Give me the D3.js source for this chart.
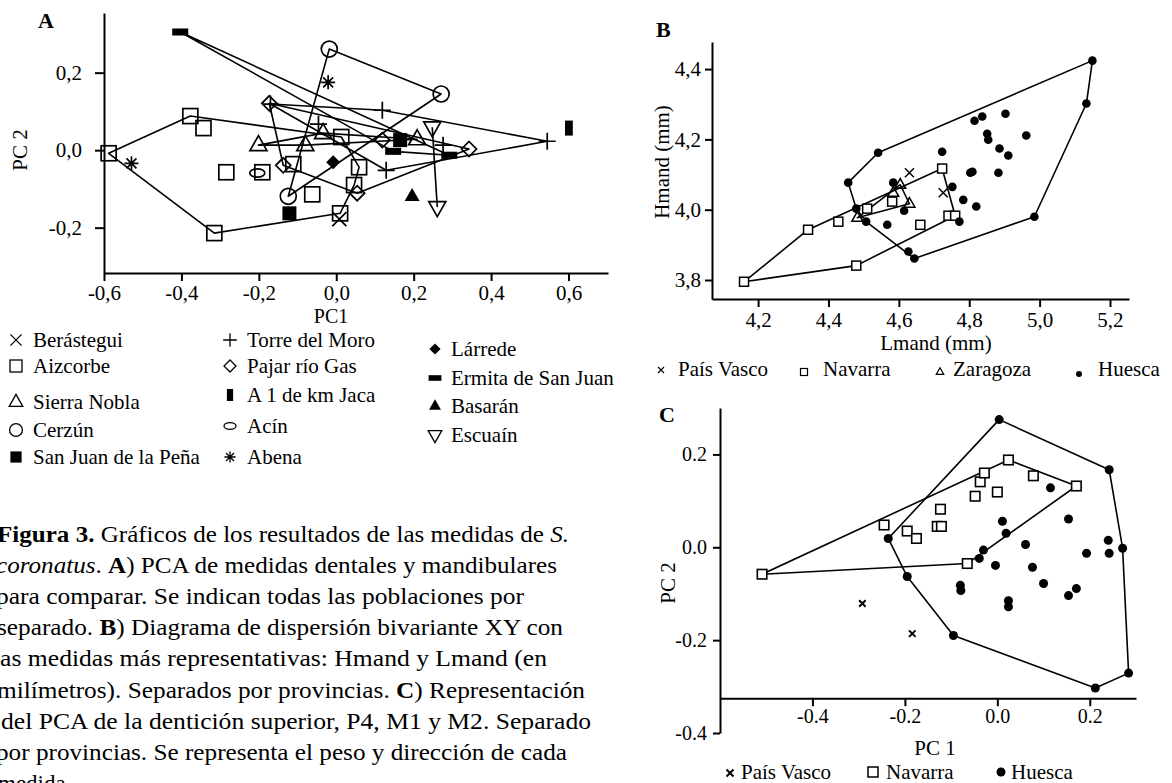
<!DOCTYPE html>
<html><head><meta charset="utf-8">
<script src="https://cdn.jsdelivr.net/npm/d3@7"></script>
<style>
body{margin:0;background:#fff;}
svg text{font-family:"Liberation Serif","Times New Roman",serif;fill:#000;}
</style></head><body>
<svg id="fig" width="1172" height="783"></svg>
<script>
// ---------------- DATA: panel A (PC1, PC2) ----------------
const aBerastegui = [[0.008,-0.178]];
const aAizcorbe = [[-0.588,-0.008],[-0.377,0.088],[-0.343,0.057],[-0.315,-0.214],[-0.284,-0.057],[-0.191,-0.057],[-0.111,-0.036],[-0.062,-0.114],[0.013,0.034],[0.059,-0.044],[0.046,-0.090],[0.010,-0.163]];
const aSierraNobla = [[-0.201,0.013],[-0.080,0.013],[-0.034,0.044],[0.209,0.028]];
const aCerzun = [[-0.018,0.261],[0.271,0.145],[-0.124,-0.119]];
const aSanJuanPena = [[-0.121,-0.163],[0.165,0.026]];
const aTorreMoro = [[-0.170,0.119],[-0.046,0.067],[0.119,0.103],[0.545,0.023],[0.276,0.013],[0.129,-0.052]];
const aPajar = [[-0.173,0.121],[-0.137,-0.039],[0.054,-0.111],[0.343,0.003],[0.119,0.026]];
const aJaca = [[0.601,0.057]];
const aAcin = [[-0.204,-0.059]];
const aAbena = [[-0.529,-0.034],[-0.021,0.175]];
const aLarrede = [[-0.008,-0.031]];
const aErmita = [[-0.403,0.305],[0.147,-0.003],[0.292,-0.013]];
const aBasaran = [[0.196,-0.119]];
const aEscuain = [[0.248,0.059],[0.261,-0.147]];
const aTicksX = [-0.6,-0.4,-0.2,0,0.2,0.4,0.6];
const aTicksY = [-0.2,0,0.2];

// ---------------- DATA: panel B (Lmand, Hmand) ----------------
const bPaisVasco = [[4.630,4.105],[4.726,4.048]];
const bNavarra = [[4.160,3.795],[4.342,3.943],[4.428,3.966],[4.479,3.841],[4.510,4.003],[4.581,4.023],[4.661,3.957],[4.723,4.117],[4.741,3.983],[4.760,3.983]];
const bZaragoza = [[4.482,3.977],[4.584,4.048],[4.604,4.071],[4.630,4.017]];
const bHuesca = [[4.456,4.077],[4.541,4.162],[4.479,4.003],[4.507,3.966],[4.567,3.957],[4.584,4.077],[4.615,3.997],[4.627,3.881],[4.644,3.861],[4.723,4.165],[4.752,4.065],[4.772,3.966],[4.783,4.028],[4.803,4.105],[4.809,4.108],[4.820,4.009],[4.815,4.253],[4.837,4.265],[4.851,4.216],[4.854,4.199],[4.886,4.174],[4.911,4.154],[4.883,4.105],[4.903,4.273],[4.962,4.211],[4.985,3.980],[5.133,4.302],[5.150,4.424]];
const bTicksX = [4.2,4.4,4.6,4.8,5.0,5.2];
const bTicksY = [3.8,4.0,4.2,4.4];

// ---------------- DATA: panel C (PC 1, PC 2) ----------------
const cPaisVasco = [[-0.292,-0.121],[-0.184,-0.186]];
const cNavarra = [[-0.509,-0.058],[-0.245,0.048],[-0.195,0.035],[-0.175,0.019],[-0.123,0.082],[-0.130,0.045],[-0.121,0.045],[-0.048,0.110],[-0.037,0.141],[-0.028,0.160],[0.000,0.119],[0.024,0.188],[0.078,0.154],[0.171,0.132],[-0.065,-0.035]];
const cHuesca = [[-0.236,0.019],[-0.195,-0.063],[0.004,0.275],[0.242,0.167],[0.271,-0.002],[0.115,0.128],[0.011,0.056],[0.019,0.030],[-0.030,-0.006],[-0.039,-0.024],[-0.004,-0.039],[0.061,0.006],[0.076,-0.043],[0.100,-0.078],[0.154,0.061],[0.193,-0.013],[0.240,0.015],[0.242,-0.013],[-0.080,-0.082],[-0.079,-0.093],[0.154,-0.104],[0.171,-0.089],[0.024,-0.115],[0.024,-0.128],[-0.095,-0.190],[0.212,-0.303],[0.284,-0.271]];
const cTicksX = [-0.4,-0.2,0,0.2];
const cTicksY = [-0.4,-0.2,0,0.2];

// ---------------- caption ----------------
const captionLines = [
  [["Figura 3.","b"],[" Gráficos de los resultados de las medidas de ",""],["S.","i"]],
  [["coronatus","i"],[". ",""],["A","b"],[") PCA de medidas dentales y mandibulares",""]],
  [["para comparar. Se indican todas las poblaciones por",""]],
  [["separado. ",""],["B","b"],[") Diagrama de dispersión bivariante XY con",""]],
  [["las medidas más representativas: Hmand y Lmand (en",""]],
  [["milímetros). Separados por provincias. ",""],["C","b"],[") Representación",""]],
  [["del PCA de la dentición superior, P4, M1 y M2. Separado",""]],
  [["por provincias. Se representa el peso y dirección de cada",""]],
  [["medida.",""]]
];

// ---------------- drawing ----------------
const svg = d3.select("#fig");
const FONT = '"Liberation Serif","Times New Roman",serif';

function drawSym(g, type, x, y, s, sw, fillOpen){
  const h = s/2;
  const t = g.append("g").attr("transform", `translate(${x},${y})`);
  const stroke = p => p.attr("fill", fillOpen || "none").attr("stroke","#000").attr("stroke-width", sw);
  const solid = p => p.attr("fill","#000").attr("stroke","none");
  switch(type){
    case "x": stroke(t.append("path").attr("d",`M${-h},${-h}L${h},${h}M${-h},${h}L${h},${-h}`)).attr("fill","none"); break;
    case "plus": stroke(t.append("path").attr("d",`M${-h},0H${h}M0,${-h}V${h}`)).attr("fill","none"); break;
    case "square": stroke(t.append("rect").attr("x",-h).attr("y",-h).attr("width",s).attr("height",s)); break;
    case "fsquare": solid(t.append("rect").attr("x",-h).attr("y",-h).attr("width",s).attr("height",s)); break;
    case "circle": stroke(t.append("circle").attr("r",h)); break;
    case "dot": solid(t.append("circle").attr("r",h)); break;
    case "triangle": stroke(t.append("path").attr("d",`M0,${-0.56*s}L${h},${0.32*s}L${-h},${0.32*s}Z`)); break;
    case "ftriangle": solid(t.append("path").attr("d",`M0,${-0.56*s}L${h},${0.32*s}L${-h},${0.32*s}Z`)); break;
    case "itriangle": stroke(t.append("path").attr("d",`M0,${0.56*s}L${h},${-0.32*s}L${-h},${-0.32*s}Z`)); break;
    case "diamond": stroke(t.append("path").attr("d",`M0,${-h}L${h},0L0,${h}L${-h},0Z`)); break;
    case "fdiamond": solid(t.append("path").attr("d",`M0,${-h}L${h},0L0,${h}L${-h},0Z`)); break;
    case "vrect": solid(t.append("rect").attr("x",-s*0.26).attr("y",-h).attr("width",s*0.52).attr("height",s)); break;
    case "hrect": solid(t.append("rect").attr("x",-h).attr("y",-s*0.22).attr("width",s).attr("height",s*0.44)); break;
    case "ellipse": stroke(t.append("ellipse").attr("rx",h).attr("ry",h*0.55)); break;
    case "asterisk": {
      let d = "";
      [0,45,90,135].forEach(a => { const r = a*Math.PI/180; d += `M${-h*Math.cos(r)},${-h*Math.sin(r)}L${h*Math.cos(r)},${h*Math.sin(r)}`; });
      stroke(t.append("path").attr("d", d)).attr("fill","none"); break;
    }
  }
}

function styleAxis(g, fs){
  g.attr("font-family", FONT).attr("font-size", fs);
  g.selectAll("text").style("font-family", FONT).attr("font-size", fs).attr("fill","#000");
  g.select(".domain").attr("stroke","#000").attr("stroke-width",2);
  g.selectAll(".tick line").attr("stroke","#000").attr("stroke-width",2);
}

function drawHulls(g, pops, sx, sy, sw){
  pops.filter(p => p.hull).forEach(p => {
    const pts = p.data.map(d => [sx(d[0]), sy(d[1])]);
    const poly = pts.length >= 3 ? d3.polygonHull(pts) : pts;
    const line = d3.line();
    g.append("path").attr("d", pts.length >= 3 ? line(poly) + "Z" : line(poly))
      .attr("fill","none").attr("stroke","#000").attr("stroke-width", sw).attr("stroke-linejoin","round");
  });
}

const fmtComma = d => d3.format(".1f")(d).replace("−","-").replace(".",",");
const fmtDot = d => d3.format(".1f")(d).replace("−","-");

// ===== Panel A =====
const ax = d3.scaleLinear().domain([-0.6, 0.702]).range([104, 608]);
const ay = d3.scaleLinear().domain([-0.317, 0.354]).range([273, 13]);
const gA = svg.append("g");
styleAxis(gA.append("g").attr("transform","translate(0,273)")
  .call(d3.axisBottom(ax).tickValues(aTicksX).tickFormat(fmtComma).tickSize(8).tickSizeOuter(0).tickPadding(4)), 21);
styleAxis(gA.append("g").attr("transform","translate(104,0)")
  .call(d3.axisLeft(ay).tickValues(aTicksY).tickFormat(fmtComma).tickSize(9).tickSizeOuter(0).tickPadding(13)), 21);

const popsA = [
  {name:"Berástegui", sym:"x", data:aBerastegui, hull:false, s:14},
  {name:"Aizcorbe", sym:"square", data:aAizcorbe, hull:true, s:15},
  {name:"Sierra Nobla", sym:"triangle", data:aSierraNobla, hull:true, s:17},
  {name:"Cerzún", sym:"circle", data:aCerzun, hull:true, s:16},
  {name:"San Juan de la Peña", sym:"fsquare", data:aSanJuanPena, hull:false, s:14},
  {name:"Torre del Moro", sym:"plus", data:aTorreMoro, hull:true, s:17},
  {name:"Pajar río Gas", sym:"diamond", data:aPajar, hull:true, s:15},
  {name:"A 1 de km Jaca", sym:"vrect", data:aJaca, hull:false, s:15},
  {name:"Acín", sym:"ellipse", data:aAcin, hull:false, s:15},
  {name:"Abena", sym:"asterisk", data:aAbena, hull:false, s:14},
  {name:"Lárrede", sym:"fdiamond", data:aLarrede, hull:false, s:14},
  {name:"Ermita de San Juan", sym:"hrect", data:aErmita, hull:true, s:16},
  {name:"Basarán", sym:"ftriangle", data:aBasaran, hull:false, s:15},
  {name:"Escuaín", sym:"itriangle", data:aEscuain, hull:true, s:17}
];
drawHulls(gA, popsA, ax, ay, 1.6);
popsA.forEach(p => p.data.forEach(d => drawSym(gA, p.sym, ax(d[0]), ay(d[1]), p.s, 1.7)));

gA.append("text").attr("x",38).attr("y",28).attr("font-size",22).attr("font-weight","bold").text("A");
gA.append("text").attr("x",331).attr("y",322.5).attr("font-size",20).attr("text-anchor","middle").text("PC1");
gA.append("text").attr("transform","translate(27,150) rotate(-90)").attr("font-size",21).attr("text-anchor","middle").text("PC 2");

// legend A
const legColsA = [{mx:16, tx:33}, {mx:230, tx:247}, {mx:435, tx:451}];
const legLayoutA = [
  ["Berástegui",0,340],["Aizcorbe",0,366],["Sierra Nobla",0,402],["Cerzún",0,430],["San Juan de la Peña",0,457],
  ["Torre del Moro",1,340],["Pajar río Gas",1,366],["A 1 de km Jaca",1,395],["Acín",1,426],["Abena",1,457],
  ["Lárrede",2,349],["Ermita de San Juan",2,378],["Basarán",2,406],["Escuaín",2,435]
];
legLayoutA.forEach(([name, col, y]) => {
  const p = popsA.find(q => q.name === name);
  drawSym(gA, p.sym, legColsA[col].mx, y, p.s*0.8, 1.3);
  gA.append("text").attr("x", legColsA[col].tx).attr("y", y+7).attr("font-size",21).text(name);
});

// ===== Panel B =====
const bx = d3.scaleLinear().domain([4.069, 5.254]).range([712, 1129]);
const by = d3.scaleLinear().domain([3.746, 4.477]).range([299, 42]);
const gB = svg.append("g");
styleAxis(gB.append("g").attr("transform","translate(0,299)")
  .call(d3.axisBottom(bx).tickValues(bTicksX).tickFormat(fmtComma).tickSize(8).tickSizeOuter(0).tickPadding(5)), 21);
styleAxis(gB.append("g").attr("transform","translate(712,0)")
  .call(d3.axisLeft(by).tickValues(bTicksY).tickFormat(fmtComma).tickSize(7).tickSizeOuter(0).tickPadding(4)), 21);
const popsB = [
  {name:"País Vasco", sym:"x", data:bPaisVasco, hull:false, s:9},
  {name:"Navarra", sym:"square", data:bNavarra, hull:true, s:9},
  {name:"Zaragoza", sym:"triangle", data:bZaragoza, hull:true, s:11},
  {name:"Huesca", sym:"dot", data:bHuesca, hull:true, s:8.6}
];
drawHulls(gB, popsB, bx, by, 1.6);
popsB.forEach(p => p.data.forEach(d => drawSym(gB, p.sym, bx(d[0]), by(d[1]), p.s, 1.5, p.sym==="square"?"#fff":null)));
gB.append("text").attr("x",656).attr("y",37).attr("font-size",22).attr("font-weight","bold").text("B");
gB.append("text").attr("x",936).attr("y",350).attr("font-size",21).attr("text-anchor","middle").text("Lmand (mm)");
gB.append("text").attr("transform","translate(669,162) rotate(-90)").attr("font-size",21).attr("text-anchor","middle").text("Hmand (mm)");
const legB = [["País Vasco",661,370,678,6],["Navarra",804,372,823,7],["Zaragoza",940,372,953,7.5],["Huesca",1079,374,1098,6]];
legB.forEach(([name,mx,my,tx,s]) => {
  const p = popsB.find(q => q.name === name);
  drawSym(gB, p.sym, mx, my, s, 1.2);
  gB.append("text").attr("x",tx).attr("y",376).attr("font-size",21).text(name);
});

// ===== Panel C =====
const cx = d3.scaleLinear().domain([-0.6, 0.3]).range([720, 1136]);
const cy = d3.scaleLinear().domain([-0.4, 0.3]).range([733, 408]);
const gC = svg.append("g");
styleAxis(gC.append("g").attr("transform",`translate(0,${cy(-0.325)})`)
  .call(d3.axisBottom(cx).tickValues(cTicksX).tickFormat(fmtDot).tickSize(8).tickSizeOuter(0).tickPadding(3)), 20);
styleAxis(gC.append("g").attr("transform","translate(720,0)")
  .call(d3.axisLeft(cy).tickValues(cTicksY).tickFormat(fmtDot).tickSize(7).tickSizeOuter(0).tickPadding(6)), 20);
const popsC = [
  {name:"País Vasco", sym:"x", data:cPaisVasco, hull:false, s:6.5},
  {name:"Navarra", sym:"square", data:cNavarra, hull:true, s:9.5},
  {name:"Huesca", sym:"dot", data:cHuesca, hull:true, s:9}
];
drawHulls(gC, popsC, cx, cy, 1.6);
popsC.forEach(p => p.data.forEach(d => drawSym(gC, p.sym, cx(d[0]), cy(d[1]), p.s, p.sym==="x"?2:1.6, p.sym==="square"?"#fff":null)));
gC.append("text").attr("x",659).attr("y",422).attr("font-size",22).attr("font-weight","bold").text("C");
gC.append("text").attr("x",935).attr("y",755).attr("font-size",21).attr("text-anchor","middle").text("PC 1");
gC.append("text").attr("transform","translate(675,583) rotate(-90)").attr("font-size",21).attr("text-anchor","middle").text("PC 2");
const legC = [["País Vasco",730,773,741,7],["Navarra",873,772,886,10],["Huesca",1001,772,1011,9]];
legC.forEach(([name,mx,my,tx,s]) => {
  const p = popsC.find(q => q.name === name);
  drawSym(gC, p.sym, mx, my, s, p.sym==="x"?2:1.5);
  gC.append("text").attr("x",tx).attr("y",779).attr("font-size",21).text(name);
});

// ===== Caption =====
const capStart = [-3,-4,-4,-3,-7,-3,1,-4,-2];
const capEnd = [569,557,524,563,547,585,591,567,null];
const gCap = svg.append("g");
captionLines.forEach((segs, i) => {
  const t = gCap.append("text").attr("x", capStart[i]).attr("y", 542 + i*31.1).attr("font-size", 23);
  segs.forEach(([txt, st]) => {
    const ts = t.append("tspan").text(txt);
    if (st === "b") ts.attr("font-weight","bold");
    if (st === "i") ts.attr("font-style","italic");
  });
  if (capEnd[i] !== null) t.attr("textLength", capEnd[i] - capStart[i]).attr("lengthAdjust","spacingAndGlyphs");
});
</script>
</body></html>
